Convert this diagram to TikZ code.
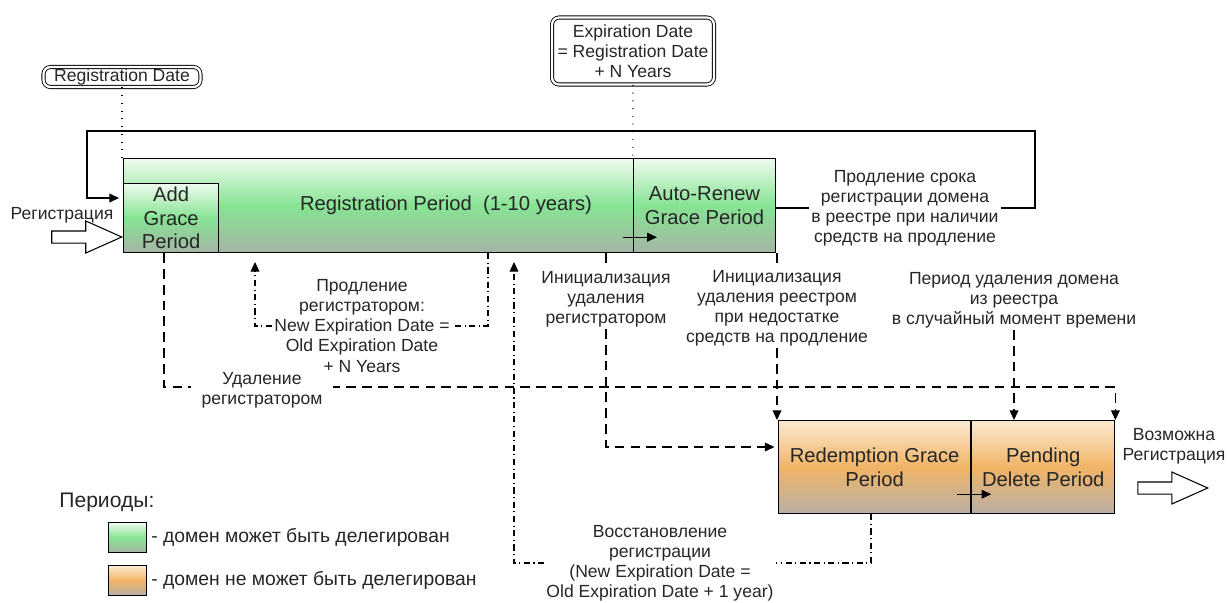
\documentclass[tikz,border=0pt]{standalone}
\usepackage{fontspec}
\setmainfont{Liberation Sans}
\usetikzlibrary{arrows.meta,shapes.arrows}
\definecolor{grTop}{HTML}{EEFBEE}
\definecolor{grMid}{HTML}{86E393}
\definecolor{grBot}{HTML}{A5B5A5}
\definecolor{orTop}{HTML}{FBE9D0}
\definecolor{orMid}{HTML}{F1B466}
\definecolor{orBot}{HTML}{B8AFA6}
\definecolor{txtGray}{HTML}{262626}
\tikzset{
    lbl/.style={align=center,inner sep=1pt,text=txtGray,font=\fontsize{10}{11.4}\selectfont},
    boxfont/.style={align=center,inner sep=0pt,text=txtGray,font=\fontsize{11.5}{13.4}\selectfont},
    greenbox/.style={draw,line width=0.7pt,boxfont,top color=grTop,bottom color=grBot,middle color=grMid},
    orangebox/.style={draw,line width=0.7pt,boxfont,top color=orTop,bottom color=orBot,middle color=orMid},
    datebox/.style={draw,double,double distance=1.3pt,line width=0.5pt,rounded corners=4pt,lbl},
    hollow/.style={single arrow,draw,line width=0.6pt,fill=white,inner xsep=0pt,inner ysep=0.11cm,minimum height=1.4cm,single arrow head extend=0.2cm,single arrow tip angle=48},
    dashln/.style={dash pattern=on 5.5pt off 3.5pt},
    dashdotln/.style={dash pattern=on 3.5pt off 2pt on 0.6pt off 2pt},
    dotln/.style={dash pattern=on 0.6pt off 3.8pt},
    tip/.style={-{Triangle[length=5.5pt,width=5pt]}}
}
\begin{document}
\begin{tikzpicture}[x=0.02cm,y=-0.02cm,line width=0.6pt]
    \useasboundingbox (0,0) rectangle (1227,602);
    % periods
    \node[greenbox,anchor=north west,minimum width=13.04cm,minimum height=1.88cm] (regp) at (123,158) {};
    \node[greenbox,anchor=south west,minimum width=1.9cm,minimum height=1.38cm] (agp) at (regp.south west) {Add\\Grace\\Period};
    \node[draw,line width=0.7pt,boxfont,anchor=north east,minimum width=2.84cm,minimum height=1.88cm] (arg) at (regp.north east) {Auto-Renew\\Grace Period};
    \node[boxfont] (rpt) at (446,205) {Registration Period~~(1-10 years)};
    \node[orangebox,anchor=north west,minimum width=3.84cm,minimum height=1.86cm] (rgp) at (778,420) {Redemption Grace\\Period};
    \node[orangebox,anchor=north west,minimum width=2.86cm,minimum height=1.86cm] (pdp) at (rgp.north east) {Pending\\Delete Period};
    \draw[tip] ([shift={(-10,-16)}]arg.south west) -- ++(34,0);
    \draw[tip] ([shift={(-14,-20)}]pdp.south west) -- ++(34,0);

    % dates
    \node[datebox,minimum width=3.14cm,minimum height=0.4cm] (regd) at (122,77) {Registration Date};
    \node[datebox,minimum width=3.24cm,minimum height=1.34cm] (expd) at (633,51) {Expiration Date\\= Registration Date\\+ N Years};
    \draw[dotln] (regd.south) -- (regd.south |- regp.north);
    \draw[dotln] (expd.south) -- (arg.north west);

    % labels
    \node[lbl] (regtxt) at (62,215) {Регистрация};
    \node[hollow] (inarr) at (80,237) {};
    \node[lbl] (freetxt) at (1174,446) {Возможна\\Регистрация};
    \node[hollow] (outarr) at (1166,488) {};
    \node[lbl] (lp) at (905,208) {Продление срока\\регистрации домена\\в реестре при наличии\\средств на продление};
    \node[lbl] (renew) at (362,326) {Продление\\регистратором:\\New Expiration Date =\\Old Expiration Date\\+ N Years};
    \node[lbl] (initrar) at (606,299) {Инициализация\\удаления\\регистратором};
    \node[lbl] (initreg) at (777,308) {Инициализация\\удаления реестром\\при недостатке\\средств на продление};
    \node[lbl] (randdel) at (1014,300) {Период удаления домена\\из реестра\\в случайный момент времени};
    \node[lbl] (restore) at (660,563) {Восстановление\\регистрации\\(New Expiration Date =\\Old Expiration Date + 1 year)};

    % auto-renew loop
    \coordinate (cLoopR) at (1035,131);
    \coordinate (cLoopL) at (87,131);
    \coordinate (cLoopIn) at (119,198);
    \draw (lp.west -| arg.east) -- (lp.west);
    \draw[tip] (lp.east) -| (cLoopR) -- (cLoopL) |- (cLoopIn);

    % deletion
    \coordinate (cDel) at (164,387);
    \coordinate (cRar) at (606,447);
    \draw[dashln,tip] (agp.south -| cDel) -- (cDel) -- (cDel -| pdp.east) -- (pdp.north east);
    \node[lbl,fill=white,inner xsep=6pt] (deltxt) at (262,390) {Удаление\\регистратором};
    \draw[dashln,tip] (randdel.south) -- (randdel.south |- pdp.north);
    \draw[dashln] (regp.south -| initreg) -- (initreg.north);
    \draw[dashln,tip] (initreg.south) -- (initreg.south |- rgp.north);
    \draw[dashln] (regp.south -| initrar) -- (initrar.north);
    \draw[dashln,tip,shorten >=2pt] (initrar.south) -- (cRar) -- (cRar -| rgp.west);

    % renewal and restore
    \coordinate (cRenR) at (488,326);
    \coordinate (cRenL) at (255,326);
    \coordinate (cResR) at (871,563);
    \coordinate (cResL) at (514,563);
    \draw[dashdotln] (regp.south -| cRenR) -- (cRenR) -- (renew.east);
    \draw[dashdotln,tip,shorten >=5pt] (renew.west) -- (cRenL) -- (cRenL |- regp.south);
    \draw[dashdotln] (rgp.south -| cResR) -- (cResR) -- (restore.east);
    \draw[dashdotln,tip,shorten >=5pt] (restore.west) -- (cResL) -- (cResL |- regp.south);

    % legend
    \node[anchor=west,text=txtGray,font=\fontsize{12}{14}\selectfont] (legt) at (53,502) {Периоды:};
\foreach \s/\y/\t in
{greenbox/522/домен может быть делегирован,
    orangebox/565/домен не может быть делегирован
}
{
    \node[\s,anchor=north west,minimum width=0.76cm,minimum height=0.6cm] (leg\s) at (108,\y) {};
    \node[anchor=west,inner sep=2pt,text=txtGray,font=\fontsize{11}{13}\selectfont] at (leg\s.east) {- \t};
};
\end{tikzpicture}
\end{document}
